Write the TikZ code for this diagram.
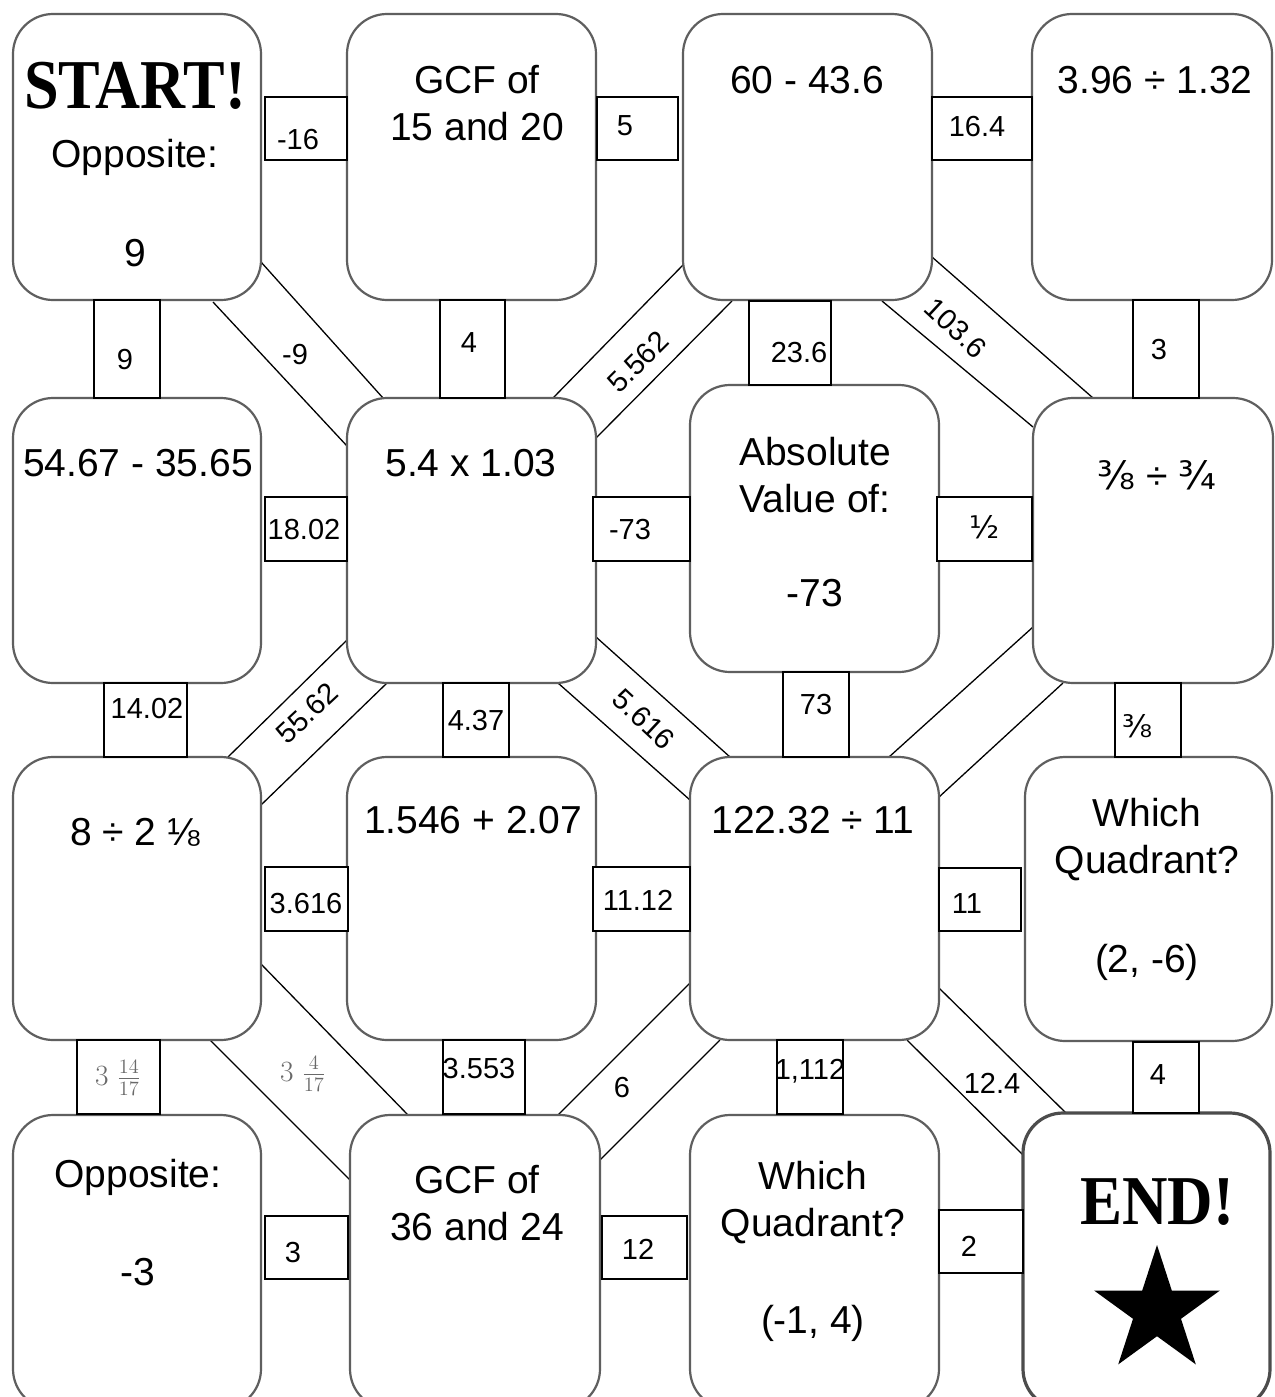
\documentclass[tikz,border=0pt]{standalone}
\usepackage{fontspec}
\setmainfont{Liberation Sans}
\newfontfamily\decofont{Liberation Serif}
\newfontfamily\fracfont{DejaVu Sans}
\usetikzlibrary{shapes.geometric}
\definecolor{boxgray}{RGB}{95,95,95}
\definecolor{fracgray}{RGB}{105,105,105}
\newcommand{\mixfrac}[2]{\scalebox{1.7}{\fontsize{17.28}{20}\selectfont$#1\;\frac{#2}{17}$}}
\begin{document}
\begin{tikzpicture}[x=1pt,y=-1pt,
  box/.style={draw=boxgray, line width=2.2pt, rounded corners=40pt, fill=white, inner sep=0pt, outer sep=0pt},
  lbl/.style={draw=black, line width=1.3pt, fill=white, inner sep=0pt, outer sep=0pt},
  big/.style={font=\fontsize{39}{47}\selectfont, align=center, inner sep=0pt},
  small/.style={font=\fontsize{29}{34}\selectfont, inner sep=0pt},
  fracsmall/.style={font=\fracfont\fontsize{31}{34}\selectfont, inner sep=0pt},
  wall/.style={draw=black, line width=1.3pt},
  deco/.style={font=\decofont\bfseries\fontsize{70}{70}\selectfont, inner sep=0pt}
]
\useasboundingbox (0,0) rectangle (1274,1397);
\clip (0,0) rectangle (1274,1397);
\fill[white] (0,0) rectangle (1274,1397);

% corridor walls (diagonal connections)
\coordinate (w1a) at (261,262);  \coordinate (w1b) at (383,398);
\coordinate (w2a) at (213,302);  \coordinate (w2b) at (347,446);
\coordinate (w3a) at (553,398);  \coordinate (w3b) at (683,265);
\coordinate (w4a) at (596,438);  \coordinate (w4b) at (732,301);
\coordinate (w5a) at (932,257);  \coordinate (w5b) at (1093,398);
\coordinate (w6a) at (882,301);  \coordinate (w6b) at (1033,427);
\coordinate (w7a) at (347,640);  \coordinate (w7b) at (228,757);
\coordinate (w8a) at (387,683);  \coordinate (w8b) at (261,805);
\coordinate (w9a) at (596,637);  \coordinate (w9b) at (730,757);
\coordinate (w10a) at (558,683); \coordinate (w10b) at (690,800);
\coordinate (w11a) at (1033,627); \coordinate (w11b) at (889,757);
\coordinate (w12a) at (1063,683); \coordinate (w12b) at (939,797);
\coordinate (w13a) at (261,964);  \coordinate (w13b) at (408,1115);
\coordinate (w14a) at (210,1040); \coordinate (w14b) at (350,1180);
\coordinate (w15a) at (690,983);  \coordinate (w15b) at (558,1115);
\coordinate (w16a) at (720,1040); \coordinate (w16b) at (600,1160);
\coordinate (w17a) at (939,988);  \coordinate (w17b) at (1066,1113);
\coordinate (w18a) at (907,1040); \coordinate (w18b) at (1023,1155);
\foreach \i in {1,...,18} { \draw[wall] (w\i a) -- (w\i b); }

% rounded boxes
\node[box, minimum width=248, minimum height=286] (a1) at (137,157) {};
\node[box, minimum width=249, minimum height=286] (a2) at (471.5,157) {};
\node[box, minimum width=249, minimum height=286] (a3) at (807.5,157) {};
\node[box, minimum width=240, minimum height=286] (a4) at (1152,157) {};
\node[box, minimum width=248, minimum height=285] (b1) at (137,540.5) {};
\node[box, minimum width=249, minimum height=285] (b2) at (471.5,540.5) {};
\node[box, minimum width=249, minimum height=287] (b3) at (814.5,528.5) {};
\node[box, minimum width=240, minimum height=285] (b4) at (1153,540.5) {};
\node[box, minimum width=248, minimum height=283] (c1) at (137,898.5) {};
\node[box, minimum width=249, minimum height=283] (c2) at (471.5,898.5) {};
\node[box, minimum width=249, minimum height=283] (c3) at (814.5,898.5) {};
\node[box, minimum width=247, minimum height=284] (c4) at (1148.5,899) {};
\node[box, minimum width=248, minimum height=294] (d1) at (137,1262) {};
\node[box, minimum width=250, minimum height=294] (d2) at (475,1262) {};
\node[box, minimum width=249, minimum height=294] (d3) at (814.5,1262) {};
\node[box, line width=3.2pt, draw=black!70, minimum width=247, minimum height=296] (d4) at (1146.5,1261) {};

% label boxes
\node[lbl, minimum width=82, minimum height=63] (l1) at (306,128.5) {};
\node[lbl, minimum width=81, minimum height=63] (l2) at (637.5,128.5) {};
\node[lbl, minimum width=100, minimum height=63] (l3) at (982,128.5) {};
\node[lbl, minimum width=66, minimum height=98] (l4) at (127,349) {};
\node[lbl, minimum width=65, minimum height=98] (l5) at (472.5,349) {};
\node[lbl, minimum width=82, minimum height=84] (l6) at (790,343) {};
\node[lbl, minimum width=66, minimum height=98] (l7) at (1166,349) {};
\node[lbl, minimum width=82, minimum height=64] (l8) at (306,529) {};
\node[lbl, minimum width=97, minimum height=64] (l9) at (641.5,529) {};
\node[lbl, minimum width=95, minimum height=64] (l10) at (984.5,529) {};
\node[lbl, minimum width=83, minimum height=74] (l11) at (145.5,720) {};
\node[lbl, minimum width=66, minimum height=74] (l12) at (476,720) {};
\node[lbl, minimum width=66, minimum height=85] (l13) at (816,714.5) {};
\node[lbl, minimum width=66, minimum height=74] (l14) at (1148,720) {};
\node[lbl, minimum width=83, minimum height=64] (l15) at (306.5,899) {};
\node[lbl, minimum width=97, minimum height=64] (l16) at (641.5,899) {};
\node[lbl, minimum width=82, minimum height=63] (l17) at (980,899.5) {};
\node[lbl, minimum width=83, minimum height=74] (l18) at (118.5,1077) {};
\node[lbl, minimum width=82, minimum height=74] (l19) at (484,1077) {};
\node[lbl, minimum width=66, minimum height=74] (l20) at (810,1077) {};
\node[lbl, minimum width=66, minimum height=71] (l21) at (1166,1077.5) {};
\node[lbl, minimum width=83, minimum height=63] (l22) at (306.5,1247.5) {};
\node[lbl, minimum width=85, minimum height=63] (l23) at (644.5,1247.5) {};
\node[lbl, minimum width=84, minimum height=63] (l24) at (981,1241.5) {};

% label texts
\node[small] (t1) at (298,140) {-16};
\node[small] (t2) at (625,126) {5};
\node[small] (t3) at (977,127) {16.4};
\node[small] (t4) at (125,360) {9};
\node[small] (t5) at (469,343) {4};
\node[small] (t6) at (799,353) {23.6};
\node[small] (t7) at (1159,350) {3};
\node[small] (t8) at (304,530) {18.02};
\node[small] (t9) at (630,530) {-73};
\node[fracsmall] (t10) at (985,527) {½};
\node[small] (t11) at (147,709) {14.02};
\node[small] (t12) at (476,721) {4.37};
\node[small] (t13) at (816,705) {73};
\node[fracsmall] (t14) at (1138,726) {⅜};
\node[small] (t15) at (306,904) {3.616};
\node[small] (t16) at (638,900) {11.12};
\node[small] (t17) at (967,904) {11};
\node[text=fracgray, inner sep=0pt] (t18) at (118,1078) {\mixfrac{3}{14}};
\node[small] (t19) at (479,1069) {3.553};
\node[small] (t20) at (810,1071) {1,112};
\node[small] (t21) at (1158,1075) {4};
\node[small] (t22) at (293,1253) {3};
\node[small] (t23) at (638,1249) {12};
\node[small] (t24) at (969,1246) {2};
% corridor texts
\node[small] (t25) at (295,355) {-9};
\node[small, rotate=45] (t26) at (638,362) {5.562};
\node[small, rotate=-43] (t27) at (956,328) {103.6};
\node[small, rotate=43] (t28) at (307,713) {55.62};
\node[small, rotate=-43] (t29) at (644,719) {5.616};
\node[text=fracgray, inner sep=0pt] (t30) at (303,1074) {\mixfrac{3}{4}};
\node[small] (t31) at (622,1088) {6};
\node[small] (t32) at (992,1083) {12.4};

% box texts
\node[deco] (s1) at (135,86) {\scalebox{0.89}[1]{START!}};
\node[big] (s2) at (135,157) {Opposite:};
\node[big] (s3) at (135,253) {9};
\node[big] (s4) at (477,103) {GCF of\\15 and 20};
\node[big] (s5) at (807,80) {60 - 43.6};
\node[big] (s6) at (1155,80) {3.96 ÷ 1.32};
\node[big] (s7) at (138,463) {54.67 - 35.65};
\node[big] (s8) at (471,463) {5.4 x 1.03};
\node[big] (s9) at (815,475) {Absolute\\Value of:};
\node[big] (s10) at (815,593) {-73};
\node[big] (s11) at (1157,475) {{\fracfont ⅜} ÷ {\fracfont ¾}};
\node[big] (s12) at (135,832) {8 ÷ 2 ⅛};
\node[big] (s13) at (473,820) {1.546 + 2.07};
\node[big] (s14) at (813,820) {122.32 ÷ 11};
\node[big] (s15) at (1147,840) {Which\\Quadrant?};
\node[big] (s16) at (1147,962) {(2, -6)};
\node[big] (s17) at (138,1177) {Opposite:};
\node[big] (s18) at (138,1272) {-3};
\node[big] (s19) at (477,1203) {GCF of\\36 and 24};
\node[big] (s20) at (813,1203) {Which\\Quadrant?};
\node[big] (s21) at (813,1323) {(-1, 4)};
\node[deco] (s22) at (1157,1202) {\scalebox{0.9}[1]{END!}};
\node[star, star points=5, star point ratio=2.618, fill=black, draw=none, minimum size=132, inner sep=0pt] (star) at (1157,1311) {};
\end{tikzpicture}
\end{document}
